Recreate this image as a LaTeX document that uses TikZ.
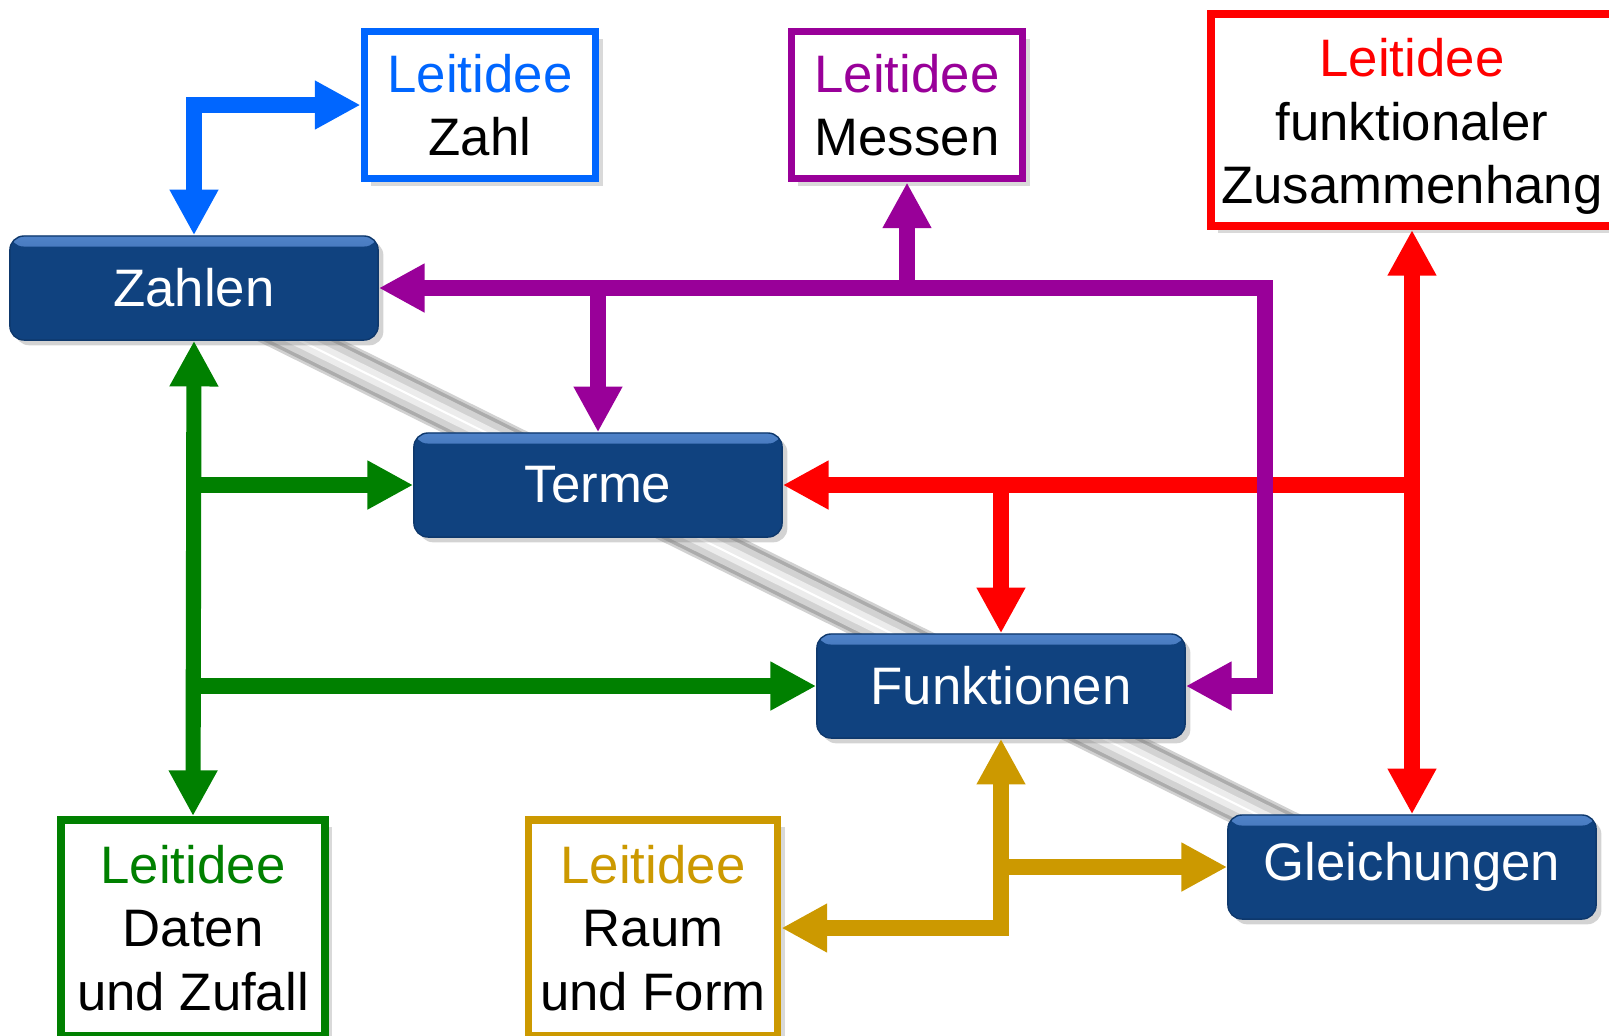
\documentclass[tikz,border=0pt]{standalone}
\usepackage{fontspec}
\setmainfont{Liberation Sans}
\usetikzlibrary{arrows.meta,shadows,backgrounds}
\definecolor{boxblue}{HTML}{10427F}
\definecolor{boxrand}{HTML}{4F82C8}
\definecolor{lzahl}{HTML}{0066FF}
\definecolor{lmessen}{HTML}{990099}
\definecolor{lfunk}{HTML}{FF0000}
\definecolor{ldaten}{HTML}{008000}
\definecolor{lraum}{HTML}{CC9900}
\tikzset{
  thema/.style={draw=boxblue!85!black, fill=boxblue, rounded corners=4pt, text=white,
    minimum width=3.68cm, minimum height=1.04cm,
    path picture={\shade[top color=boxrand, bottom color=boxblue]
      (path picture bounding box.north west) rectangle ([yshift=-3pt]path picture bounding box.north east);},
    drop shadow={shadow xshift=1.5pt, shadow yshift=-1.5pt, opacity=.35}},
  leit/.style={draw=#1, line width=2.2pt, fill=white, align=center, inner sep=0pt,
    drop shadow={shadow xshift=2pt, shadow yshift=-2pt, opacity=.3}},
  pfeil/.style={draw=#1, line width=4.3pt, line join=miter, >={Triangle[length=13pt,width=13pt]}},
}
\begin{document}
\begin{tikzpicture}[x=0.01cm, y=-0.01cm, font=\fontsize{15pt}{18pt}\selectfont]
\useasboundingbox (0,0) rectangle (1609,1035);
% Themen
\node[thema] (zahlen) at (194,288) {Zahlen};
\node[thema] (terme) at (598,485) {Terme};
\node[thema] (funkt) at (1001,686) {Funktionen};
\node[thema] (gleich) at (1412,867) {Gleichungen};
% Leitideen
\node[leit=lzahl, minimum width=2.31cm, minimum height=1.47cm] (lzahl) at (480,105) {\textcolor{lzahl}{Leitidee}\\Zahl};
\node[leit=lmessen, minimum width=2.31cm, minimum height=1.47cm] (lmessen) at (907,105) {\textcolor{lmessen}{Leitidee}\\Messen};
\node[leit=lfunk, minimum width=4.02cm, minimum height=2.12cm] (lfunk) at (1412,120) {\rule{0pt}{14.5pt}\textcolor{lfunk}{Leitidee}\\funktionaler\\Zusammenhang};
\node[leit=ldaten, minimum width=2.64cm, minimum height=2.16cm] (ldaten) at (193,928) {\textcolor{ldaten}{Leitidee}\\Daten\\und Zufall};
\node[leit=lraum, minimum width=2.49cm, minimum height=2.16cm] (lraum) at (653,928) {\textcolor{lraum}{Leitidee}\\Raum\\und Form};
\coordinate (rohrende) at (1363,867);
\coordinate (mknick) at (1265,288);
% Rohr
\begin{scope}[on background layer]
\draw[line width=11pt, black!18, shift={(1pt,-2.5pt)}] (zahlen.center) -- (rohrende);
\draw[line width=9.5pt, gray!65] (zahlen.center) -- (rohrende);
\draw[line width=7.5pt, gray!35, shift={(0pt,-.4pt)}] (zahlen.center) -- (rohrende);
\draw[line width=4pt, gray!15, shift={(0pt,-.6pt)}] (zahlen.center) -- (rohrende);
\draw[line width=.6pt, white, shift={(-.9pt,-3.7pt)}] (zahlen.center) -- (rohrende);
\end{scope}
% Zahl
\draw[pfeil=lzahl,<->] (zahlen.north) |- (lzahl.west);
% funktionaler Zusammenhang
\draw[pfeil=lfunk,<->] (lfunk.south) -- (gleich.north);
\draw[pfeil=lfunk,->] (gleich.north |- terme.east) -- (terme.east);
\draw[pfeil=lfunk,->] (funkt.north |- terme.east) -- (funkt.north);
% Messen
\draw[pfeil=lmessen,<->] (zahlen.east) -- (mknick) |- (funkt.east);
\draw[pfeil=lmessen,->] (lmessen.south |- zahlen.east) -- (lmessen.south);
\draw[pfeil=lmessen,->] (terme.north |- zahlen.east) -- (terme.north);
% Daten
\draw[pfeil=ldaten,<->] (zahlen.south) -- (ldaten.north);
\draw[pfeil=ldaten,->] (zahlen.south |- terme.west) -- (terme.west);
\draw[pfeil=ldaten,->] (zahlen.south |- funkt.west) -- (funkt.west);
% Raum
\draw[pfeil=lraum,<->] (funkt.south) |- (lraum.east);
\draw[pfeil=lraum,->] (funkt.south |- gleich.west) -- (gleich.west);
\end{tikzpicture}
\end{document}
